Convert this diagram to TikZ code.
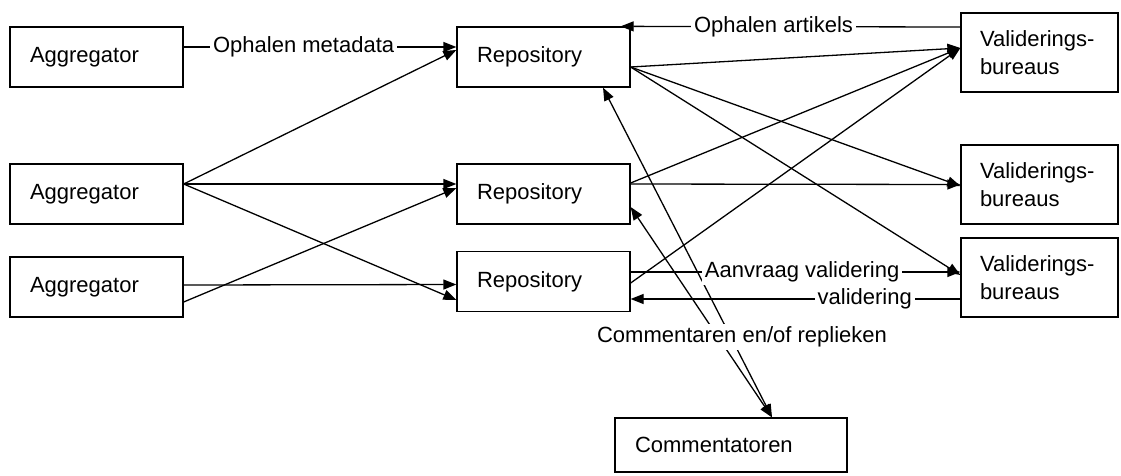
\documentclass[tikz,border=0pt]{standalone}
\usepackage{fontspec}
\setmainfont{Liberation Sans}
\usetikzlibrary{arrows.meta}
\tikzset{
  box/.style={draw, line width=1.3pt, minimum height=60pt, inner xsep=20pt, inner ysep=0pt, text width=133pt, align=left},
  valbox/.style={box, minimum height=79pt, inner xsep=19pt, text width=119pt},
  arr/.style={line width=1.3pt, -{Triangle[length=13pt,width=10pt]}},
  biarr/.style={line width=1.3pt, {Triangle[length=13pt,width=10pt]}-{Triangle[length=13pt,width=10pt]}},
  lbl/.style={fill=white, inner sep=3pt}
}
\begin{document}
\begin{tikzpicture}[x=1pt,y=-1pt,font=\fontsize{22pt}{28pt}\selectfont]
\useasboundingbox (0,0) rectangle (1121,475);
\foreach \n/\y in {1/57,2/194,3/287} \node[box] (agg\n) at (96.5,\y) {Aggregator};
\foreach \n/\y in {1/57,2/194,3/281.5} \node[box] (repo\n) at (543.5,\y) {Repository};
\foreach \n/\y in {1/52.5,2/184.5,3/277.5} \node[valbox] (val\n) at (1039.5,\y) {Validerings-\\bureaus};
\node[box, minimum height=54pt, text width=192pt] (com) at (731,445) {Commentatoren};
% aggregators -> repositories
\draw[arr] ([yshift=10pt]agg2.east) -- ([yshift=7pt]repo1.west);
\draw[arr] ([yshift=10pt]agg2.east) -- ([yshift=10pt]repo2.west);
\draw[arr] ([yshift=10pt]agg2.east) -- ([yshift=-18.5pt]repo3.west);
\draw[arr] ([yshift=2pt]agg3.east) -- ([yshift=-3pt]repo3.west);
\draw[arr] ([yshift=-15pt]agg3.east) -- ([yshift=6pt]repo2.west);
% repositories -> validation
\draw[arr] ([yshift=-10pt]repo1.east) -- ([yshift=4.5pt]val1.west);
\draw[arr] ([yshift=-10pt]repo1.east) -- ([yshift=-1.5pt]val2.west);
\draw[arr] ([yshift=-10pt]repo1.east) -- ([yshift=2.5pt]val3.west);
\draw[arr] ([yshift=11pt]repo2.east) -- ([yshift=4.5pt]val1.west);
\draw[arr] ([yshift=10pt]repo2.east) -- (val2.west);
\draw[arr] ([yshift=-1.5pt]repo3.east) -- ([yshift=4.5pt]val1.west);
% comments
\draw[biarr] ([xshift=41pt]com.north) -- ([xshift=59.5pt]repo1.south);
\draw[biarr] ([xshift=41pt]com.north) -- ([yshift=-13pt]repo2.east);
\node[lbl] (comlbl) at (742,337) {Commentaren en/of replieken};
% labelled flows
\draw[arr] ([yshift=10pt]agg1.east) -- node[lbl, pos=0.44] {Ophalen metadata} ([yshift=10pt]repo1.west);
\draw[arr] ([yshift=25.5pt]val1.west) -- node[lbl, pos=0.55] {Ophalen artikels} ([xshift=-10pt]repo1.north east);
\draw[arr] ([yshift=9.5pt]repo3.east) -- node[lbl, pos=0.52] {Aanvraag validering} ([yshift=5.5pt]val3.west);
\draw[arr] ([yshift=-21.5pt]val3.west) -- node[lbl, pos=0.29] {validering} ([yshift=-17.5pt]repo3.east);
\end{tikzpicture}
\end{document}
